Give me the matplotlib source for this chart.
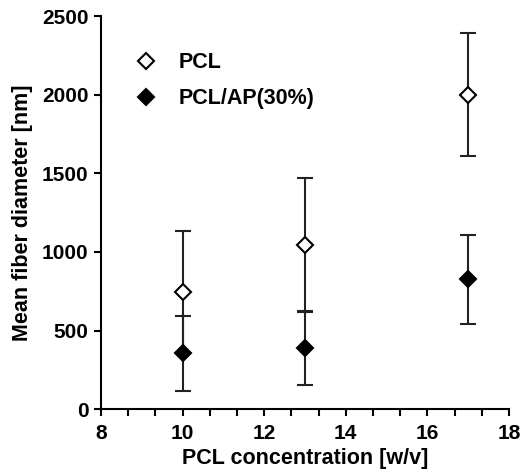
import matplotlib
matplotlib.use("Agg")
import matplotlib.pyplot as plt
from matplotlib.lines import Line2D
from matplotlib.ticker import MultipleLocator

plt.rcParams["font.family"] = ["Liberation Sans", "DejaVu Sans"]
plt.rcParams["font.weight"] = "bold"

# PCL concentration [w/v]
conc = [10, 13, 17]

# mean fiber diameter [nm] with lower / upper error
pcl_mean = [745, 1045, 2000]
pcl_err_lo = [385, 428, 390]
pcl_err_hi = [385, 428, 395]

ap_mean = [355, 388, 827]
ap_err_lo = [237, 235, 288]
ap_err_hi = [240, 235, 283]

fig = plt.figure(figsize=(5.2, 4.73), dpi=100)
ax = fig.add_axes([0.194, 0.135, 0.785, 0.831])

ax.errorbar(conc, pcl_mean, yerr=[pcl_err_lo, pcl_err_hi], fmt="D",
            mfc="white", mec="black", mew=1.5, ms=8.5, ecolor="#222222",
            elinewidth=1.5, capsize=5.5, capthick=1.5, zorder=3)
ax.errorbar(conc, ap_mean, yerr=[ap_err_lo, ap_err_hi], fmt="D",
            mfc="black", mec="black", mew=1.5, ms=8.5, ecolor="#222222",
            elinewidth=1.5, capsize=5.5, capthick=1.5, zorder=4)

ax.set_xlim(8, 18)
ax.set_ylim(0, 2500)
ax.xaxis.set_major_locator(MultipleLocator(2))
ax.xaxis.set_minor_locator(MultipleLocator(2 / 3))
ax.yaxis.set_major_locator(MultipleLocator(500))

for s in ("top", "right"):
    ax.spines[s].set_visible(False)
for s in ("left", "bottom"):
    ax.spines[s].set_linewidth(1.5)
ax.tick_params(which="both", direction="out", width=1.5, length=5,
               labelsize=15)
ax.tick_params(axis="x", pad=6)
ax.tick_params(axis="y", pad=4)

ax.set_xlabel("PCL concentration [w/v]", fontsize=15.5, fontweight="bold",
              labelpad=3)
ax.set_ylabel("Mean fiber diameter [nm]", fontsize=15.5, fontweight="bold",
              labelpad=6)

handles = [
    Line2D([], [], ls="none", marker="D", ms=8.5, mfc="white", mec="black",
           mew=1.5, label="PCL"),
    Line2D([], [], ls="none", marker="D", ms=8.5, mfc="black", mec="black",
           mew=1.5, label="PCL/AP(30%)"),
]
ax.legend(handles=handles, loc="upper left", bbox_to_anchor=(0.05, 0.93),
          frameon=False, fontsize=15.5, handletextpad=0.75, labelspacing=0.7,
          borderaxespad=0, handlelength=1.5)

fig.savefig("out.png", dpi=100)
